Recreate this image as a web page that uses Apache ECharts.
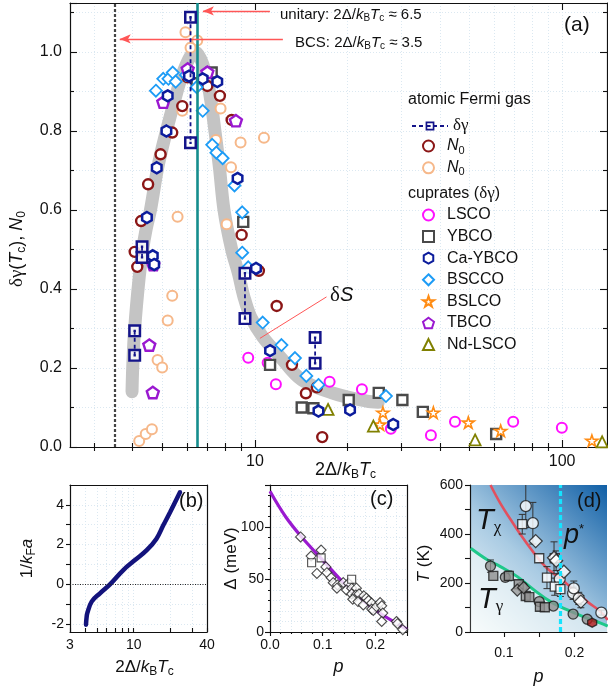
<!DOCTYPE html>
<html><head><meta charset="utf-8">
<script src="https://cdn.jsdelivr.net/npm/echarts@6/dist/echarts.min.js"></script>
<style>html,body{margin:0;padding:0;background:#fff}#c{width:608px;height:689px}</style>
</head><body><div id="c"></div>
<script>
// ---------------- Panel (a) data : x = 2Δ/kBTc, y = δγ(Tc) or N0 ----------------
const aXLabels = [10, 100];
const aXMinorTicks = [3,4,5,6,7,8,9,20,30,40,50,60,70,80,90];
const bcsRatio = 3.5;
const unitaryRatio = 6.5;
const afgDeltaGammaPairs = [
  [[6.17,1.088],[6.17,0.770]],
  [[4.29,0.507],[4.29,0.480]],
  [[4.06,0.294],[4.06,0.232]],
  [[9.28,0.440],[9.28,0.325]],
  [[15.7,0.277],[15.7,0.212]]
];
const afgN0Dark = [[6.04,0.936],[5.80,0.863],[5.38,0.796],[4.93,0.741],[4.49,0.665],[4.26,0.572],[7.0,0.914],[7.69,0.889],[8.40,0.828],[9.05,0.537],[4.06,0.494],[4.14,0.456],[10.3,0.446],[11.77,0.357],[13.2,0.208],[14.65,0.136],[15.9,0.151],[16.56,0.025]];
const afgN0Light = [[5.94,1.050],[6.49,1.029],[6.17,1.011],[5.80,0.851],[7.73,0.857],[7.46,0.777],[8.98,0.771],[10.7,0.783],[8.36,0.708],[5.60,0.583],[8.09,0.564],[5.38,0.383],[5.20,0.320],[4.82,0.220],[4.99,0.201],[4.20,0.015],[4.41,0.033],[4.62,0.045]];
const lscoData = [[9.51,0.226],[11.0,0.213],[11.7,0.159],[17.5,0.165],[22.3,0.146],[27.7,0.046],[37.4,0.030],[44.8,0.064],[69.3,0.064],[99.8,0.049]];
const ybcoData = [[6.46,0.921],[7.23,0.948],[9.16,0.570],[11.2,0.208],[14.2,0.100],[15.5,0.098],[20.2,0.119],[25.3,0.137],[30.2,0.119],[35.2,0.089],[61.0,0.033]];
const caYbcoData = [[6.10,0.939],[6.76,0.932],[7.54,0.925],[5.20,0.889],[5.15,0.800],[4.79,0.707],[8.78,0.680],[4.45,0.581],[4.65,0.484],[4.70,0.462],[10.08,0.452],[11.2,0.244],[16.1,0.091],[20.4,0.094],[28.2,0.057]];
const bsccoData = [[4.76,0.902],[5.03,0.932],[5.23,0.932],[5.40,0.948],[5.52,0.925],[5.96,0.942],[6.46,0.911],[6.76,0.851],[7.26,0.765],[7.49,0.745],[7.85,0.731],[8.58,0.662],[9.09,0.594],[9.09,0.492],[9.51,0.455],[10.6,0.315],[12.2,0.258],[13.5,0.225],[14.7,0.180],[16.1,0.157],[26.7,0.129]];
const bslcoData = [[26.1,0.087],[25.5,0.057],[38.1,0.087],[49.5,0.062],[63.1,0.041],[125,0.016]];
const tbcoData = [[6.04,0.957],[5.03,0.873],[7.0,0.949],[8.67,0.826],[4.53,0.258],[4.65,0.138],[4.67,0.462]];
const ndLscoData = [[17.3,0.095],[24.3,0.053],[52.1,0.018],[135,0.013]];
const deltaSCurve = [[3.98,0.14],[4.0,0.20],[4.06,0.30],[4.2,0.43],[4.31,0.50],[4.42,0.55],[4.57,0.60],[4.83,0.709],[5.15,0.80],[5.48,0.878],[5.87,0.954],[6.38,1.0],[6.87,0.954],[7.18,0.878],[7.41,0.80],[7.66,0.709],[7.93,0.60],[8.4,0.50],[8.83,0.44],[9.21,0.38],[9.68,0.33],[10.6,0.279],[12.06,0.229],[14.2,0.17],[18.0,0.136],[23.1,0.116],[25.2,0.113]];
const unitaryArrow = [[11.19,1.104],[6.77,1.104]];
const bcsArrow = [[12.33,1.033],[3.63,1.033]];
const deltaSPointer = [[10.38,0.275],[17.1,0.38]];

// ---------------- Panel (b) : 1/kFa vs 2Δ/kBTc ----------------
const bXLabels = [3, 10, 40];
const bXTicks = [3,4,5,6,7,8,9,10,20,30,40];
const bYLabels = [-2, 0, 2, 4];
const bYTicks = [-2,-1,0,1,2,3,4];
const bCurve = [[4.06,-2.03],[4.1,-1.7],[4.16,-1.45],[4.52,-0.87],[5.29,-0.45],[6.39,0.0],[8.22,0.72],[10.25,1.22],[12.8,1.72],[15.4,2.3],[17.5,2.97],[19.9,3.63],[24.0,4.63]];

// ---------------- Panel (c) : Δ (meV) vs p ----------------
const cCurve = [[0,134],[0.03,109.5],[0.06,90.5],[0.1,68.5],[0.15,41.7],[0.2,21],[0.25,5.3],[0.26,2.5]];
const cDiamonds = [[0.058,90.5],[0.078,72.3],[0.097,78],[0.089,55.8],[0.106,62],[0.108,56.5],[0.116,51.7],[0.120,47],[0.128,44.8],[0.139,47],[0.127,41.7],[0.149,46.4],[0.145,40],[0.155,41.7],[0.155,36.3],[0.164,41.7],[0.163,35.3],[0.169,36.3],[0.157,31.2],[0.167,29],[0.177,25.8],[0.178,34.4],[0.183,32.2],[0.187,30],[0.193,27.5],[0.193,21.8],[0.196,20.5],[0.202,24.2],[0.209,28],[0.212,24.9],[0.214,18],[0.212,10],[0.240,10],[0.242,7.9],[0.252,2.2]];
const cSquares = [[0.079,65.9],[0.097,70.6],[0.155,50.2]];

// ---------------- Panel (d) : T (K) vs p   [p, T, error] ----------------
const dXLabels = [0.1, 0.2];
const dXTicks = [0.1, 0.15, 0.2];
const pStar = 0.18;
const dTchiCurve = [[0.081,600],[0.095,525],[0.110,457],[0.124,396],[0.143,321],[0.161,260],[0.180,219],[0.199,171],[0.218,124],[0.237,83],[0.247,49]];
const dTgammaCurve = [[0.053,342],[0.077,294],[0.095,267],[0.119,226],[0.143,171],[0.166,124],[0.190,90],[0.213,62],[0.237,36],[0.247,24]];
const dChiCircles = [[0.131,514,88],[0.141,444,85],[0.179,216,22],[0.198,158,25],[0.199,178,30],[0.206,137,25],[0.238,79,10]];
const dChiSquares = [[0.126,440,40],[0.150,301,0],[0.161,222,45],[0.172,185,35],[0.180,175,30],[0.172,301,0]];
const dChiDiamonds = [[0.145,371,0],[0.171,303,65],[0.174,291,40],[0.185,246,0],[0.209,124,25]];
const dGamCircles = [[0.081,269,25],[0.102,223,15],[0.126,185,10],[0.150,124,0],[0.170,106,0],[0.198,73,0],[0.218,52,0]];
const dGamSquares = [[0.085,229,0],[0.107,229,20],[0.121,195,0],[0.131,147,0],[0.136,142,0],[0.151,103,0],[0.158,101,0]];
const dGamDiamonds = [[0.119,171,0],[0.128,181,0]];
const dOther = [[0.225,38]];

// ---------------- styles ----------------
const F = "'Liberation Sans', Arial, Helvetica, sans-serif";
const SERIF = "'Liberation Serif', 'Times New Roman', serif";
const ink = '#111';
const navy = '#14148a', maroon = '#8b1616', peach = '#f6b88a', magenta = '#ff10ff', ybcoGray = '#4a4a4a',
      caNavy = '#0c1c9c', bsccoBlue = '#1d9cf6', orange = '#ff8c14', purple = '#9a18d0', olive = '#808000';
const SYM_RING = 'path://M0,0H10V10H0Z M1.9,1.9V8.1H8.1V1.9Z M4.1,4.1H5.9V5.9H4.1Z';
const SYM_HEX = 'path://M5,0 L9.33,2.5 L9.33,7.5 L5,10 L0.67,7.5 L0.67,2.5 Z';
const SYM_STAR = 'path://M5,0 L6.18,3.62 L10,3.62 L6.91,5.86 L8.09,9.5 L5,7.26 L1.91,9.5 L3.09,5.86 L0,3.62 L3.82,3.62 Z';
const SYM_PENT = 'path://M5,0 L9.76,3.45 L7.94,9.05 L2.06,9.05 L0.24,3.45 Z';

function rich(fs) {
  return {
    i: {fontStyle:'italic', fontFamily:F, fontSize:fs, color:ink},
    s: {fontSize:Math.round(fs*0.68), fontFamily:F, color:ink, padding:[Math.round(fs*0.55),0,0,0]},
    g: {fontFamily:SERIF, fontSize:fs+1, color:ink}
  };
}
const axLine = {show:true, onZero:false, lineStyle:{color:ink, width:1.2}};
const tickStyle = {color:ink, width:1.1};

const grids = [
  {left:70, top:3, width:537, height:444},
  {left:70, top:485, width:137, height:147},
  {left:270, top:485, width:137, height:147},
  {left:470, top:485, width:137, height:147, show:true, borderWidth:0,
   backgroundColor: new echarts.graphic.LinearGradient(0,1,1,0,[{offset:0,color:'#fbfdfe'},{offset:0.45,color:'#a9cbe3'},{offset:1,color:'#105fa6'}])}
].map(g => Object.assign({containLabel:false, outerBoundsMode:'none'}, g));

const dotted = {show:true, lineStyle:{color:'#dbe8f1', type:[1,2], width:1}};

const xAxes = [
  {type:'log', logBase:10, gridIndex:0, min:2.5, max:140, position:'bottom', axisLine:axLine,
   axisTick:{show:true, inside:true, length:7, customValues:aXLabels, lineStyle:tickStyle},
   axisLabel:{customValues:aXLabels, fontSize:16, fontFamily:F, color:ink, margin:7},
   splitLine:dotted,
   name:'2Δ/{i|k}{s|B}{i|T}{s|c}', nameLocation:'middle', nameGap:12, nameMoveOverlap:false,
   nameTextStyle:{fontSize:18, fontFamily:F, color:ink, verticalAlign:'top', padding:[0,0,0,14], rich:rich(18)}},
  {type:'log', logBase:10, gridIndex:0, min:2.5, max:140, position:'bottom', axisLine:{show:false},
   axisTick:{show:true, inside:true, length:4, customValues:aXMinorTicks, lineStyle:tickStyle},
   axisLabel:{show:false}, splitLine:dotted},
  {type:'log', logBase:10, gridIndex:0, min:2.5, max:140, position:'top', axisLine:axLine,
   axisTick:{show:true, inside:true, length:7, customValues:aXLabels, lineStyle:tickStyle},
   axisLabel:{show:false}, splitLine:{show:false}},
  {type:'log', logBase:10, gridIndex:0, min:2.5, max:140, position:'top', axisLine:{show:false},
   axisTick:{show:true, inside:true, length:4, customValues:aXMinorTicks, lineStyle:tickStyle},
   axisLabel:{show:false}, splitLine:{show:false}},
  {type:'log', logBase:10, gridIndex:1, min:3, max:40, position:'bottom', axisLine:axLine,
   axisTick:{show:true, inside:true, length:4, customValues:bXTicks, lineStyle:tickStyle},
   axisLabel:{customValues:bXLabels, fontSize:14, fontFamily:F, color:ink, margin:6},
   splitLine:dotted,
   name:'2Δ/{i|k}{s|B}{i|T}{s|c}', nameLocation:'middle', nameGap:25, nameMoveOverlap:false,
   nameTextStyle:{fontSize:17, fontFamily:F, color:ink, verticalAlign:'top', padding:[0,0,0,12], rich:rich(17)}},
  {type:'log', logBase:10, gridIndex:1, min:3, max:40, position:'top', axisLine:axLine, axisTick:{show:false}, axisLabel:{show:false}, splitLine:{show:false}},
  {type:'value', gridIndex:2, min:0, max:0.26, interval:0.1, position:'bottom', axisLine:axLine,
   axisTick:{show:true, inside:false, length:4, lineStyle:tickStyle},
   minorTick:{show:true, splitNumber:5, length:2, lineStyle:tickStyle},
   axisLabel:{fontSize:14, fontFamily:F, color:ink, margin:6, formatter:v=>v.toFixed(1), showMaxLabel:false},
   splitLine:dotted, minorSplitLine:dotted,
   name:'{i|p}', nameLocation:'middle', nameGap:26, nameMoveOverlap:false,
   nameTextStyle:{fontSize:18, fontFamily:F, color:ink, verticalAlign:'top', rich:rich(18)}},
  {type:'value', gridIndex:2, min:0, max:0.26, position:'top', axisLine:axLine, axisTick:{show:false}, axisLabel:{show:false}, splitLine:{show:false}},
  {type:'value', gridIndex:3, min:0.052, max:0.246, position:'bottom', axisLine:axLine,
   axisTick:{show:true, inside:false, length:5, customValues:dXTicks, lineStyle:tickStyle},
   axisLabel:{customValues:dXLabels, fontSize:14, fontFamily:F, color:ink, margin:14, formatter:v=>v.toFixed(1)},
   splitLine:{show:false},
   name:'{i|p}', nameLocation:'middle', nameGap:36, nameMoveOverlap:false,
   nameTextStyle:{fontSize:18, fontFamily:F, color:ink, verticalAlign:'top', rich:rich(18)}},
  {type:'value', gridIndex:3, min:0.052, max:0.246, position:'top', axisLine:{show:false}, axisTick:{show:false}, axisLabel:{show:false}, splitLine:{show:false}}
];

const yAxes = [
  {type:'value', gridIndex:0, min:0, max:1.124, interval:0.2, position:'left', axisLine:axLine,
   axisTick:{show:true, inside:true, length:7, lineStyle:tickStyle},
   minorTick:{show:true, splitNumber:2, length:4, lineStyle:tickStyle},
   axisLabel:{fontSize:16, fontFamily:F, color:ink, margin:8, formatter:v=>v.toFixed(1), showMaxLabel:false},
   splitLine:dotted, minorSplitLine:dotted,
   name:'{g|δγ}({i|T}{s|c}), {i|N}{s|0}', nameLocation:'middle', nameRotate:90, nameGap:42, nameMoveOverlap:false,
   nameTextStyle:{fontSize:18, fontFamily:F, color:ink, padding:[0,48,0,0], rich:rich(18)}},
  {type:'value', gridIndex:0, min:0, max:1.124, interval:0.2, position:'right', axisLine:axLine,
   axisTick:{show:true, inside:true, length:7, lineStyle:tickStyle},
   minorTick:{show:true, splitNumber:2, length:4, lineStyle:tickStyle},
   axisLabel:{show:false}, splitLine:{show:false}},
  {type:'value', gridIndex:1, min:-2.4, max:5, position:'left', axisLine:axLine,
   axisTick:{show:true, inside:false, length:4, customValues:bYTicks, lineStyle:tickStyle},
   axisLabel:{customValues:bYLabels, fontSize:14, fontFamily:F, color:ink, margin:6},
   splitLine:dotted,
   name:'1/{i|k}{s|F}{i|a}', nameLocation:'middle', nameRotate:90, nameGap:32, nameMoveOverlap:false,
   nameTextStyle:{fontSize:17, fontFamily:F, color:ink, rich:rich(17)}},
  {type:'value', gridIndex:1, min:-2.4, max:5, position:'right', axisLine:axLine, axisTick:{show:false}, axisLabel:{show:false}, splitLine:{show:false}},
  {type:'value', gridIndex:2, min:0, max:140, interval:50, position:'left', axisLine:axLine,
   axisTick:{show:true, inside:false, length:5, lineStyle:tickStyle},
   minorTick:{show:true, splitNumber:5, length:2, lineStyle:tickStyle},
   axisLabel:{fontSize:14, fontFamily:F, color:ink, margin:6, showMaxLabel:false},
   splitLine:dotted, minorSplitLine:dotted,
   name:'Δ (meV)', nameLocation:'middle', nameRotate:90, nameGap:30, nameMoveOverlap:false,
   nameTextStyle:{fontSize:17, fontFamily:F, color:ink}},
  {type:'value', gridIndex:2, min:0, max:140, position:'right', axisLine:axLine, axisTick:{show:false}, axisLabel:{show:false}, splitLine:{show:false}},
  {type:'value', gridIndex:3, min:0, max:600, interval:200, position:'left', axisLine:axLine,
   axisTick:{show:true, inside:false, length:5, lineStyle:tickStyle},
   minorTick:{show:true, splitNumber:2, length:5, lineStyle:tickStyle},
   axisLabel:{fontSize:14, fontFamily:F, color:ink, margin:7},
   splitLine:{show:false},
   name:'{i|T} (K)', nameLocation:'middle', nameRotate:90, nameGap:37, nameMoveOverlap:false,
   nameTextStyle:{fontSize:17, fontFamily:F, color:ink, padding:[0,10,0,0], rich:rich(17)}},
  {type:'value', gridIndex:3, min:0, max:600, position:'right', axisLine:{show:false}, axisTick:{show:false}, axisLabel:{show:false}, splitLine:{show:false}}
];

function scatterA(name, data, symbol, size, color, bw) {
  return {type:'scatter', name, xAxisIndex:0, yAxisIndex:0, data, symbol, symbolSize:size, symbolKeepAspect:true, z:3,
    itemStyle:{color:'#fff', borderColor:color, borderWidth:bw, opacity:1}, emphasis:{disabled:true}};
}

const series = [];
series.push({type:'line', name:'δS', xAxisIndex:0, yAxisIndex:0, data:deltaSCurve, smooth:0.35, showSymbol:false, symbol:'none', z:1,
  lineStyle:{color:'#c4c4c4', width:13, cap:'round', join:'round'}, silent:true,
  markLine:{silent:true, symbol:['none','none'], label:{show:false}, animation:false, data:[
    {xAxis:bcsRatio, lineStyle:{color:'#444', type:[3,2], width:2.2}},
    {xAxis:unitaryRatio, lineStyle:{color:'#158d8d', type:'solid', width:2.6}},
    [{coord:unitaryArrow[0], symbol:'none'},{coord:unitaryArrow[1], symbol:'arrow', symbolSize:[7,11], lineStyle:{color:'#ff5656', width:1.3, type:'solid'}}],
    [{coord:bcsArrow[0], symbol:'none'},{coord:bcsArrow[1], symbol:'arrow', symbolSize:[7,11], lineStyle:{color:'#ff5656', width:1.3, type:'solid'}}],
    [{coord:deltaSPointer[0], symbol:'none'},{coord:deltaSPointer[1], symbol:'none', lineStyle:{color:'#ff5656', width:1, type:'solid'}}]
  ]}});
series.push(scatterA('N0-light', afgN0Light, 'circle', 10, peach, 2));
series.push(scatterA('N0-dark', afgN0Dark, 'circle', 10, maroon, 2.4));
series.push(scatterA('LSCO', lscoData, 'circle', 10, magenta, 2));
series.push(scatterA('YBCO', ybcoData, 'rect', 10, ybcoGray, 2.4));
series.push(scatterA('BSCCO', bsccoData, 'diamond', 12, bsccoBlue, 1.8));
series.push(scatterA('BSLCO', bslcoData, SYM_STAR, 12, orange, 1.6));
series.push(scatterA('TBCO', tbcoData, SYM_PENT, 12, purple, 2.4));
series.push(scatterA('Nd-LSCO', ndLscoData, 'triangle', 11, olive, 1.8));
series.push(scatterA('Ca-YBCO', caYbcoData, SYM_HEX, 11, caNavy, 2.5));
series.push({type:'scatter', xAxisIndex:0, yAxisIndex:0, data:afgDeltaGammaPairs.flat(), symbol:'rect', symbolSize:11, z:4, silent:true,
  itemStyle:{color:'#fff'}});
afgDeltaGammaPairs.forEach(pair => {
  series.push({type:'line', name:'δγ', xAxisIndex:0, yAxisIndex:0, data:pair, symbol:SYM_RING, symbolSize:13, showSymbol:true, z:5,
    itemStyle:{color:navy, borderWidth:0}, lineStyle:{color:navy, width:1.8, type:[4,3]}, emphasis:{disabled:true}});
});

series.push({type:'line', xAxisIndex:4, yAxisIndex:2, data:bCurve, smooth:0.4, symbol:'none', z:3,
  lineStyle:{color:'#13137c', width:4.5, cap:'round'},
  markLine:{silent:true, symbol:['none','none'], label:{show:false}, data:[{yAxis:0}], lineStyle:{color:'#222', type:[1,1.5], width:1}}});

series.push({type:'line', xAxisIndex:6, yAxisIndex:4, data:cCurve, smooth:0.4, symbol:'none', z:2,
  lineStyle:{color:'#9a1ad0', width:3.2}});
series.push({type:'scatter', xAxisIndex:6, yAxisIndex:4, data:cDiamonds, symbol:'diamond', symbolSize:10, z:3,
  itemStyle:{color:'#fff', borderColor:'#222', borderWidth:1.1}});
series.push({type:'scatter', xAxisIndex:6, yAxisIndex:4, data:cSquares, symbol:'rect', symbolSize:8, z:3,
  itemStyle:{color:'#fff', borderColor:'#222', borderWidth:1.1}});

function errRender(params, api) {
  const x = api.value(0), y = api.value(1), e = api.value(2);
  if (!e) return null;
  const t = api.coord([x, y + e]), b = api.coord([x, y - e]);
  const w = 3.5, st = {stroke:'#333', lineWidth:1};
  return {type:'group', children:[
    {type:'line', shape:{x1:t[0], y1:t[1], x2:b[0], y2:b[1]}, style:st},
    {type:'line', shape:{x1:t[0]-w, y1:t[1], x2:t[0]+w, y2:t[1]}, style:st},
    {type:'line', shape:{x1:b[0]-w, y1:b[1], x2:b[0]+w, y2:b[1]}, style:st}
  ]};
}
series.push({type:'line', xAxisIndex:8, yAxisIndex:6, data:dTgammaCurve, smooth:0.4, symbol:'none', z:1,
  lineStyle:{width:0}, areaStyle:{color:'rgba(246,251,250,0.78)', origin:'start'}, silent:true});
series.push({type:'line', xAxisIndex:8, yAxisIndex:6, data:dTchiCurve, smooth:0.4, symbol:'none', z:2,
  lineStyle:{color:'#e2505e', width:2.6}});
series.push({type:'line', xAxisIndex:8, yAxisIndex:6, data:dTgammaCurve, smooth:0.4, symbol:'none', z:2,
  lineStyle:{color:'#1fc88a', width:3},
  markLine:{silent:true, symbol:['none','none'], label:{show:false}, data:[{xAxis:pStar}], lineStyle:{color:'#14e4ff', type:[5,3], width:3.2}}});
[dChiCircles, dChiSquares, dChiDiamonds, dGamCircles, dGamSquares, dGamDiamonds].forEach(arr => {
  series.push({type:'custom', xAxisIndex:8, yAxisIndex:6, data:arr, renderItem:errRender, clip:true, z:3, silent:true});
});
function scatterD(data, symbol, size, fill) {
  return {type:'scatter', xAxisIndex:8, yAxisIndex:6, data, symbol, symbolSize:size, z:4, clip:true,
    encode:{x:0, y:1}, itemStyle:{color:fill, borderColor:'#1a1a1a', borderWidth:1.3}};
}
series.push(scatterD(dGamCircles, 'circle', 10, '#8e8e8e'));
series.push(scatterD(dGamSquares, 'rect', 9, '#8e8e8e'));
series.push(scatterD(dGamDiamonds, 'diamond', 12, '#9a9a9a'));
series.push(scatterD(dChiCircles, 'circle', 11, '#fff'));
series.push(scatterD(dChiSquares, 'rect', 9, '#fff'));
series.push(scatterD(dChiDiamonds, 'diamond', 13, '#fff'));
series.push(scatterD(dOther, SYM_HEX, 9, '#b01818'));

const legendRich = {i:{fontStyle:'italic', fontSize:16, fontFamily:F, color:ink, lineHeight:20},
        s:{fontSize:11, fontFamily:F, color:ink, padding:[9,0,0,0]},
        g:{fontSize:17, fontFamily:SERIF, color:ink, lineHeight:20}};
const legendText = {fontSize:16, fontFamily:F, color:ink, lineHeight:20, rich:legendRich};
const legendTextPad = {fontSize:16, fontFamily:F, color:ink, lineHeight:20, padding:[0,0,0,8], rich:legendRich};

const option = {
  animation:false,
  backgroundColor:'#fff',
  textStyle:{fontFamily:F},
  grid:grids, xAxis:xAxes, yAxis:yAxes, series,
  legend:[
    {orient:'vertical', left:406, top:111, itemWidth:36, itemHeight:11, selectedMode:false,
     data:['δγ'], textStyle:legendText, formatter:() => '{g|δγ}'},
    {orient:'vertical', left:417, top:131, itemWidth:11, itemHeight:11, itemGap:1.8, selectedMode:false,
     data:['N0-dark','N0-light'], textStyle:legendTextPad, formatter:() => '{i|N}{s|0}'},
    {orient:'vertical', left:417, top:200, itemWidth:11, itemHeight:11, itemGap:1.6, selectedMode:false,
     data:['LSCO','YBCO','Ca-YBCO','BSCCO','BSLCO','TBCO','Nd-LSCO'], textStyle:legendTextPad}
  ],
  graphic:{elements:[
    {type:'text', left:280, top:7, z:100, silent:true, style:{text:'unitary: 2Δ/{i|k}{s|B}{i|T}{s|c} ≈ 6.5', fontSize:15, fontFamily:F, fill:ink, rich:rich(15)}},
    {type:'text', left:295, top:35, z:100, silent:true, style:{text:'BCS: 2Δ/{i|k}{s|B}{i|T}{s|c} ≈ 3.5', fontSize:15, fontFamily:F, fill:ink, rich:rich(15)}},
    {type:'text', left:564, top:15, z:100, silent:true, style:{text:'(a)', fontSize:21, fontFamily:F, fill:ink}},
    {type:'text', left:408, top:92, z:100, silent:true, style:{text:'atomic Fermi gas', fontSize:16, fontFamily:F, fill:ink}},
    {type:'text', left:408, top:185, z:100, silent:true, style:{text:'cuprates ({g|δγ})', fontSize:16, fontFamily:F, fill:ink, rich:{g:{fontSize:17, fontFamily:SERIF, fill:ink}}}},
    {type:'text', left:330, top:285, z:100, silent:true, style:{text:'{g|δ}{i|S}', rich:{g:{fontSize:21, fontFamily:SERIF, fill:ink}, i:{fontSize:20, fontStyle:'italic', fontFamily:F, fill:ink}}}},
    {type:'text', left:179, top:491, z:100, silent:true, style:{text:'(b)', fontSize:20, fontFamily:F, fill:ink}},
    {type:'text', left:370, top:489, z:100, silent:true, style:{text:'(c)', fontSize:20, fontFamily:F, fill:ink}},
    {type:'text', left:577, top:491, z:100, silent:true, style:{text:'(d)', fontSize:20, fontFamily:F, fill:ink}},
    {type:'text', left:476, top:506, z:100, silent:true, style:{text:'{i|T}{s|χ}', rich:{i:{fontSize:29, fontStyle:'italic', fontFamily:F, fill:ink}, s:{fontSize:17, fontFamily:SERIF, fill:ink, padding:[14,0,0,0]}}}},
    {type:'text', left:478, top:585, z:100, silent:true, style:{text:'{i|T}{s|γ}', rich:{i:{fontSize:29, fontStyle:'italic', fontFamily:F, fill:ink}, s:{fontSize:17, fontFamily:SERIF, fill:ink, padding:[14,0,0,0]}}}},
    {type:'text', left:564, top:522, z:100, silent:true, style:{text:'{i|p}{s|*}', rich:{i:{fontSize:27, fontStyle:'italic', fontFamily:F, fill:ink}, s:{fontSize:13, fontFamily:F, fill:ink, padding:[0,0,12,0]}}}}
  ]}
};
const chart = echarts.init(document.getElementById('c'), null, {renderer:'canvas'});
chart.setOption(option);
</script></body></html>
